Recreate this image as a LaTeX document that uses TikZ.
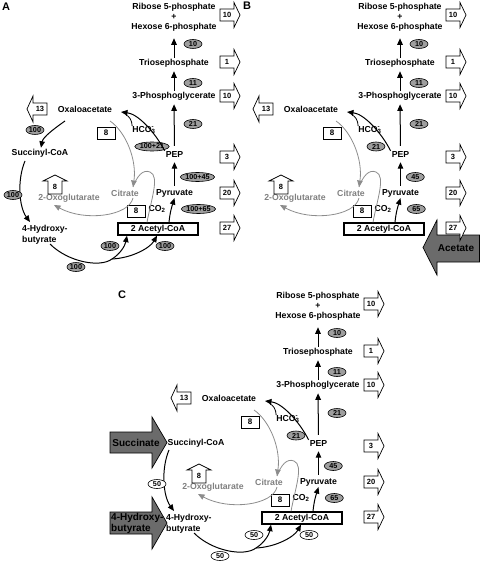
\documentclass[tikz,border=0pt]{standalone}
\usepackage{fontspec}
\setmainfont{Liberation Sans}
\usetikzlibrary{arrows.meta,shapes.geometric}
\definecolor{ellgray}{gray}{0.62}
\definecolor{biggray}{gray}{0.42}
\definecolor{txtgray}{gray}{0.5}
\definecolor{lngray}{gray}{0.55}
\tikzset{
 lbl/.style={font=\bfseries\fontsize{8.7}{11}\selectfont, inner sep=1pt},
 glbl/.style={lbl, text=txtgray},
 ell/.style={ellipse, draw, line width=0.6pt, fill=ellgray, inner sep=0pt, minimum width=18pt, minimum height=9pt, font=\bfseries\fontsize{7.2}{8}\selectfont},
 wel/.style={ell, fill=white},
 numbox/.style={draw, fill=white, line width=0.8pt, minimum width=18pt, minimum height=12pt, inner sep=0pt, font=\bfseries\fontsize{8}{9}\selectfont},
 acbox/.style={draw, fill=white, line width=1.3pt, minimum width=80pt, minimum height=12pt, inner sep=0pt, font=\bfseries\fontsize{8.7}{10}\selectfont},
 ar/.style={line width=1pt, -{Triangle[length=6.5pt,width=5.5pt]}},
 gar/.style={line width=0.8pt, draw=lngray, -{Triangle[length=6.5pt,width=5.5pt]}},
 gln/.style={line width=0.8pt, draw=lngray},
 arbox/.style={draw, fill=white, line width=0.7pt},
 boxnum/.style={font=\bfseries\fontsize{7.5}{9}\selectfont, inner sep=0pt},
 big/.style={draw, line width=0.7pt, fill=biggray},
 bigtxt/.style={font=\bfseries\fontsize{10}{11}\selectfont, inner sep=0pt},
 panel/.style={font=\bfseries\fontsize{11}{12}\selectfont, inner sep=0pt},
 pics/outR/.style={code={
   \draw[arbox] (-7,-6) -- (7,-6) -- (7,-12.5) -- (13,0) -- (7,12.5) -- (7,6) -- (-7,6) -- cycle;
   \node[boxnum] (-n) at (0,0) {#1};}},
 pics/outL/.style={code={
   \draw[arbox] (7,-6) -- (-7,-6) -- (-7,-13) -- (-13,0) -- (-7,13) -- (-7,6) -- (7,6) -- cycle;
   \node[boxnum] (-n) at (0,0) {#1};}},
 pics/outU/.style={code={
   \draw[arbox] (-7,9) -- (-7,-4) -- (-12,-4) -- (0,-10) -- (12,-4) -- (7,-4) -- (7,9) -- cycle;
   \node[boxnum] (-n) at (0,2) {#1};}},
}
\newcommand\corepanel[4]{%
 \node[lbl,align=center] (rib) at (174,17) {Ribose 5-phosphate\\[-1pt]+\\[-1pt]Hexose 6-phosphate};
 \node[lbl] (tri) at (174,63) {Triosephosphate};
 \node[lbl] (pg) at (174,96) {3-Phosphoglycerate};
 \node[lbl] (pep) at (174.5,155) {PEP};
 \node[lbl] (pyr) at (174.5,193) {Pyruvate};
 \node[acbox] (acc) at (158,229) {2 Acetyl-CoA};
 \node[lbl] (oxal) at (85,109) {Oxaloacetate};
 \node[glbl] (cit) at (125,193) {Citrate};
 \node[glbl] (oxo) at (69,198) {2-Oxoglutarate};
 \node[lbl,inner sep=0pt] (hco) at (144,130) {HCO\rlap{\textsuperscript{-}}\textsubscript{3}};
 \node[lbl] (co) at (157,209) {CO\textsubscript{2}};
 \node[numbox] (n8a) at (106,133) {8};
 \node[numbox] (n8b) at (136,211) {8};
 \node[ell] (e10) at (193,44) {10};
 \node[ell] (e11) at (193,83) {11};
 \node[ell] (e21) at (193,124) {21};
 \node[ell] (eh) at (#4,146.5) {#1};
 \node[ell,anchor=west] (ep) at (180,177) {#2};
 \node[ell,anchor=west] (ey) at (181,209) {#3};
 \pic (o1) at (227,15) {outR=10};
 \pic (o2) at (227,62) {outR=1};
 \pic (o3) at (227,96) {outR=10};
 \pic (o4) at (227,157) {outR=3};
 \pic (o5) at (227,193) {outR=20};
 \pic (o6) at (227,228) {outR=27};
 \pic (ol) at (40,109) {outL=13};
 \pic (ou) at (55,185) {outU=8};
 \coordinate (oxin) at (121,112);
 \coordinate (hj) at (126,115);
 \coordinate (citin) at (133,187);
 \coordinate (c1) at (110,121);
 \coordinate (citout) at (133,198);
 \coordinate (oxoin) at (54,205);
 \draw[ar,shorten >=6pt] (tri) -- (rib);
 \draw[ar,shorten >=3pt] (pg) -- (tri);
 \draw[ar,shorten <=5pt,shorten >=3pt] (pep) -- (pg);
 \draw[ar,shorten <=2pt,shorten >=3pt] (pyr) -- (pep);
 \draw[ar] (pep.north west) .. controls (155,132) and (138,114) .. (oxin);
 \draw[line width=0.8pt] (hco.north west) .. controls (132,120) and (129,116) .. (hj);
 \draw[gar] (c1) .. controls (126,132) and (137,160) .. (citin);
 \draw[gln] ([xshift=-11pt]acc.north) .. controls (151,200) and (160,176) .. (150,172) .. controls (143,169) and (137,176) .. (citin);
 \draw[gar] (citout) .. controls (129,216) and (85,222) .. (oxoin);
 \draw[ar] ([xshift=11pt]acc.north) .. controls (170,212) and (172,206) .. (pyr.south);
}
\newcommand\hbpart[1]{%
 \node[lbl,align=left,anchor=west] (hb) at (21,234.5) {4-Hydroxy-\\butyrate};
 \coordinate (s1) at (25,161);
 \coordinate (hbin) at (30,222);
 \coordinate (h1) at (50,244);
 \coordinate (hm) at (112,259);
 \draw[ar] (s1) .. controls (17,180) and (19,207) .. (hbin);
 \draw[ar] (h1) .. controls (68,262) and (100,268) .. (hm) .. controls (120,254) and (125,246) .. ([xshift=-31pt]acc.south);
 \draw[ar] (hm) .. controls (132,258) and (150,248) .. ([xshift=-1pt]acc.south);
 \node[#1] (es) at (13,195) {\hbval};
 \node[#1] (eb1) at (110,246) {\hbval};
 \node[#1] (eb2) at (165,246) {\hbval};
 \node[#1] (eb3) at (76,267) {\hbval};
}
\begin{document}
\begin{tikzpicture}[x=1pt,y=-1pt]
\useasboundingbox (0,0) rectangle (480,561);
\node[panel] (la) at (6,7) {A};
\node[panel] (lb) at (247,6) {B};
\node[panel] (lc) at (122,295) {C};
% Panel A
\begin{scope}[name prefix=a-]
 \corepanel{100+21}{100+45}{100+65}{152}
 \node[lbl] (succ) at (40,153) {Succinyl-CoA};
 \def\hbval{100}
 \hbpart{ell}
 \node[ell] (eo) at (35,130) {100};
 \coordinate (o2s) at (65,121);
 \draw[ar] (o2s) .. controls (55,128) and (43,137) .. (succ);
\end{scope}
% Panel B
\draw[big] (479.5,235) -- (437,235) -- (437,220) -- (423,247.5) -- (437,275) -- (437,262) -- (479.5,262) -- cycle;
\node[bigtxt] (acet) at (456,248) {Acetate};
\begin{scope}[shift={(226,0)},name prefix=b-]
 \corepanel{21}{45}{65}{150}
\end{scope}
% Panel C
\draw[big] (110,432) -- (152,432) -- (152,417) -- (167,442.5) -- (152,468) -- (152,453) -- (110,453) -- cycle;
\node[bigtxt] (succa) at (136,442.5) {Succinate};
\draw[big] (110,512) -- (152,512) -- (152,497) -- (167,523) -- (152,549) -- (152,534) -- (110,534) -- cycle;
\node[bigtxt,align=left,anchor=west] (hba) at (111,523) {4-Hydroxy-\\butyrate};
\begin{scope}[shift={(144,289)},name prefix=c-]
 \corepanel{21}{45}{65}{152}
 \node[lbl] (succ) at (52,154) {Succinyl-CoA};
 \def\hbval{50}
 \hbpart{wel}
\end{scope}
\end{tikzpicture}
\end{document}
